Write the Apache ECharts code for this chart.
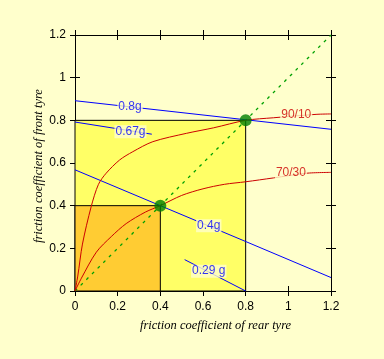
<!DOCTYPE html>
<html><head><meta charset="utf-8">
<script src="https://cdn.jsdelivr.net/npm/echarts@6/dist/echarts.min.js"></script>
<style>html,body{margin:0;padding:0;background:#FFFFCC;}#c{width:384px;height:359px;}</style>
</head><body><div id="c"></div>
<script>
// axis ticks
var xTicks = [0, 0.2, 0.4, 0.6, 0.8, 1, 1.2];
var yTicks = [0, 0.2, 0.4, 0.6, 0.8, 1, 1.2];
// shaded regions (upper right corner)
var outerRegion = [0.8, 0.8];
var innerRegion = [0.4, 0.4];
// constant-deceleration lines
var line08g = [[0, 0.892], [1.2, 0.758]];
var line067g = [[0, 0.792], [0.36, 0.735]];
var line04g = [[0, 0.568], [0.4, 0.4], [0.8, 0.232], [1.2, 0.063]];
var line029g = [[0.514, 0.147], [0.8, 0]];
// brake-distribution curves
var curve9010 = [[0,0],[0.013,0.07],[0.035,0.22],[0.076,0.396],[0.11,0.5],[0.146,0.552],[0.209,0.614],[0.271,0.653],[0.365,0.7],[0.522,0.739],[0.65,0.765],[0.8,0.8],[0.93,0.812],[1.13,0.828],[1.2,0.83]];
var curve7030 = [[0,0],[0.03,0.06],[0.1,0.182],[0.17,0.255],[0.24,0.316],[0.33,0.37],[0.4,0.4],[0.5,0.448],[0.6,0.479],[0.7,0.5],[0.8,0.512],[0.93,0.53],[1.085,0.552],[1.2,0.556]];
// equal-friction diagonal and operating points
var diagonal = [[0, 0], [1.2, 1.2]];
var points = [[0.4, 0.4], [0.8, 0.8]];
// line labels
var labelTexts = ['0.8g', '0.67g', '0.4g', '0.29 g', '90/10', '70/30'];
var labelX = [0.258, 0.26, 0.627, 0.627, 1.037, 1.012];
var labelY = [0.862, 0.747, 0.306, 0.093, 0.825, 0.555];
var labelColors = ['#0000FF', '#0000FF', '#0000FF', '#0000FF', '#CC0000', '#CC0000'];

var chart = echarts.init(document.getElementById('c'), null, {renderer: 'canvas'});
function axisBase(pos, inside, showLabel, isX) {
  return {
    type: 'value', position: pos, min: xTicks[0], max: xTicks[xTicks.length - 1], interval: 0.2,
    axisLine: {show: true, onZero: false, lineStyle: {color: '#000', width: 1}},
    axisTick: {show: true, inside: inside, length: 5, lineStyle: {color: '#000', width: 1}},
    axisLabel: {show: showLabel, color: '#000', fontSize: 12, fontFamily: 'Liberation Sans, Arial', margin: isX ? 10 : 9},
    splitLine: {show: false}
  };
}
var labelData = labelTexts.map(function (t, i) { return {value: [labelX[i], labelY[i]], name: t, label: {color: labelColors[i]}}; });
var option = {
  backgroundColor: '#FFFFCC',
  animation: false,
  grid: {left: 75, right: 53, top: 35, bottom: 68},
  xAxis: [axisBase('bottom', false, true, true), axisBase('bottom', true, false, true), axisBase('top', false, false, true), axisBase('top', true, false, true)],
  yAxis: [axisBase('left', false, true, false), axisBase('left', true, false, false), axisBase('right', false, false, false), axisBase('right', true, false, false)],
  graphic: [
    {type: 'text', left: 140, top: 319, style: {text: 'friction coefficient of rear tyre', font: 'italic 12.5px "Liberation Serif", serif', fill: '#000'}},
    {type: 'text', x: 32, y: 243, rotation: Math.PI / 2, style: {text: 'friction coefficient of front tyre', font: 'italic 12.5px "Liberation Serif", serif', fill: '#000'}}
  ],
  series: [
    {type: 'line', data: [], silent: true, z: 1,
      markArea: {silent: true, data: [
        [{coord: [0, 0], itemStyle: {color: '#FFFF66', borderColor: '#000', borderWidth: 1}}, {coord: outerRegion}],
        [{coord: [0, 0], itemStyle: {color: '#FFCC33', borderColor: '#000', borderWidth: 1}}, {coord: innerRegion}]
      ]}},
    {type: 'line', data: diagonal, symbol: 'none', z: 2, color: '#00A000', itemStyle: {color: '#00A000'}, lineStyle: {color: '#00A000', width: 1.3, type: [3, 5]}},
    {type: 'line', data: line08g, symbol: 'none', z: 3, color: '#0000FF', lineStyle: {color: '#0000FF', width: 1}},
    {type: 'line', data: line067g, symbol: 'none', z: 3, color: '#0000FF', lineStyle: {color: '#0000FF', width: 1}},
    {type: 'line', data: line04g, symbol: 'none', z: 3, color: '#0000FF', lineStyle: {color: '#0000FF', width: 1}},
    {type: 'line', data: line029g, symbol: 'none', z: 3, color: '#0000FF', lineStyle: {color: '#0000FF', width: 1}},
    {type: 'line', data: curve9010, symbol: 'none', smooth: 0.3, z: 4, color: '#CC0000', lineStyle: {color: '#CC0000', width: 1}},
    {type: 'line', data: curve7030, symbol: 'none', smooth: 0.3, z: 4, color: '#CC0000', lineStyle: {color: '#CC0000', width: 1}},
    {type: 'scatter', data: points, symbol: 'circle', symbolSize: 12, z: 5, itemStyle: {color: '#008000'}},
    {type: 'scatter', data: labelData, symbolSize: 0, z: 6,
      label: {show: true, position: 'inside', formatter: '{b}', fontSize: 12, fontFamily: 'Liberation Sans, Arial', backgroundColor: '#FFFFCC', padding: [1, 1, 0, 1]}}
  ]
};
chart.setOption(option);
</script></body></html>
